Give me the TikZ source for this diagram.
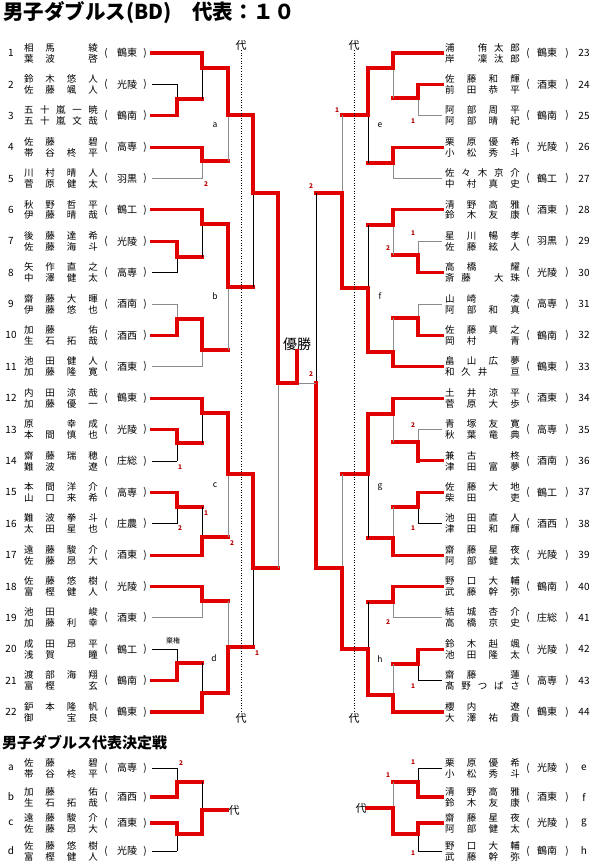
\documentclass[tikz,border=0pt]{standalone}
\usepackage{fontspec}
\setmainfont{Noto Sans CJK JP}
\usepackage{tikz}
\usetikzlibrary{positioning}
\definecolor{winred}{HTML}{E00000}
\definecolor{scorered}{HTML}{B80000}
\definecolor{linegray}{HTML}{8C8C8C}
% one match: [loser style]{x}{winner y}{out y}{loser y}{next x}
\newcommand{\Match}[6][lose]{%
  \draw[#1] (#2,#4) -- (#2,#5);
  \draw[win] (#2,#3) -- (#2,#4) -- (#6,#4);}

\begin{document}
\begin{tikzpicture}[x=1pt, y=-1pt,
  win/.style={draw=winred, line width=3.1pt, line cap=rect},
  lose/.style={draw=black, line width=0.7pt},
  loseg/.style={draw=linegray, line width=0.8pt},
  player/.style={inner sep=0pt, font=\fontsize{9.5}{11}\selectfont},
  school/.style={inner sep=0pt, font=\fontsize{10}{12}\selectfont},
  entryno/.style={inner sep=0pt, font=\fontsize{10}{12}\selectfont},
  score/.style={inner sep=0pt, text=scorered, font=\fontsize{6.5}{7}\selectfont\bfseries},
  grp/.style={inner sep=0pt, font=\fontsize{8.5}{9}\selectfont},
  dai/.style={inner sep=0pt, font=\fontsize{11}{12}\selectfont},
  dotline/.style={draw=black, line width=0.6pt, dotted}
]
\path[use as bounding box, fill=white] (0,0) rectangle (597,867);

\node[anchor=west, inner sep=0pt, font=\fontsize{20.5}{21}\selectfont\bfseries] (title) at (3,13) {男子ダブルス(BD)　代表：１０};

% left half
\foreach \n/\p/\q/\s/\x/\st in {
  1/{相 馬 　 綾}/{葉 波 　 啓}/鶴東/202/win,
  2/{鈴 木 悠 人}/{佐 藤 颯 人}/光陵/177/lose,
  3/{五 十 嵐 一 暁}/{五 十 嵐 文 哉}/鶴南/177/win,
  4/{佐 藤 　 碧}/{帯 谷 柊 平}/高専/202/win,
  5/{川 村 晴 人}/{菅 原 健 太}/羽黒/202/loseg,
  6/{秋 野 哲 平}/{伊 藤 晴 哉}/鶴工/202/win,
  7/{後 藤 達 希}/{佐 藤 海 斗}/光陵/177/win,
  8/{矢 作 直 之}/{中 澤 健 太}/高専/177/lose,
  9/{齋 藤 大 暉}/{伊 藤 悠 也}/酒南/177/loseg,
  10/{加 藤 　 佑}/{生 石 拓 哉}/酒西/177/win,
  11/{池 田 健 人}/{加 藤 隆 寛}/酒東/202/loseg,
  12/{内 田 涼 哉}/{加 藤 優 一}/鶴東/202/win,
  13/{原 　 幸 成}/{本 間 慎 也}/光陵/177/win,
  14/{齋 藤 瑞 穂}/{難 波 　 遼}/庄総/177/lose,
  15/{本 間 洋 介}/{山 口 来 希}/高専/177/win,
  16/{難 波 拳 斗}/{太 田 星 也}/庄農/177/lose,
  17/{遠 藤 駿 介}/{佐 藤 昂 大}/酒東/202/win,
  18/{佐 藤 悠 樹}/{富 樫 健 人}/光陵/202/win,
  19/{池 田 　 峻}/{加 藤 利 幸}/酒東/202/loseg,
  20/{成 田 昂 平}/{浅 賀 　 瞳}/鶴工/177/lose,
  21/{渡 部 海 翔}/{富 樫 　 玄}/鶴南/177/win,
  22/{鈩 本 隆 帆}/{御 　 宝 良}/鶴東/202/win}{
  \pgfmathsetmacro{\yy}{53+(\n-1)*31.38}
  \node[entryno] (no\n) at (11,\yy) {\n};
  \node[player] (pa\n) at (61,\yy-5.5) {\makebox[74pt][s]{\p}};
  \node[player] (pb\n) at (61,\yy+5.5) {\makebox[74pt][s]{\q}};
  \node[school] (op\n) at (106,\yy) {(};
  \node[school] (sc\n) at (127,\yy) {\s};
  \node[school] (cp\n) at (145,\yy) {)};
  \coordinate (e\n) at (152,\yy);
  \draw[\st] (e\n) -- (\x,\yy);
}

% right half
\foreach \n/\p/\q/\s/\x/\st in {
  23/{浦 　 侑 太 郎}/{岸 　 凜 汰 郎}/鶴東/393/win,
  24/{佐 藤 和 輝}/{前 田 恭 平}/酒東/418/win,
  25/{阿 部 周 平}/{阿 部 晴 紀}/鶴南/418/loseg,
  26/{栗 原 優 希}/{小 松 秀 斗}/光陵/393/win,
  27/{佐 々 木 京 介}/{中 村 真 史}/鶴工/393/loseg,
  28/{清 野 高 雅}/{鈴 木 友 康}/酒東/393/win,
  29/{星 川 暢 孝}/{佐 藤 絃 人}/羽黒/418/loseg,
  30/{高 橋 　 耀}/{斎 藤 　 大 珠}/光陵/418/win,
  31/{山 崎 　 凌}/{阿 部 和 真}/高専/418/loseg,
  32/{佐 藤 真 之}/{岡 村 　 青}/鶴南/418/win,
  33/{畠 山 広 夢}/{和 久 井 　 亘}/鶴東/393/win,
  34/{土 井 涼 平}/{菅 原 大 歩}/酒東/393/win,
  35/{青 塚 友 寛}/{秋 葉 竜 典}/高専/418/loseg,
  36/{兼 古 　 柊}/{津 田 富 夢}/酒南/418/win,
  37/{佐 藤 大 地}/{柴 田 　 吏}/鶴工/418/win,
  38/{池 田 直 人}/{津 田 和 輝}/酒西/418/lose,
  39/{齋 藤 星 夜}/{阿 部 健 太}/光陵/393/win,
  40/{野 口 大 輔}/{武 藤 幹 弥}/鶴南/393/win,
  41/{結 城 杏 介}/{高 橋 京 史}/庄総/393/loseg,
  42/{鈴 木 赳 颯}/{池 田 隆 太}/光陵/418/win,
  43/{齋 藤 　 蓮}/{髙 野 つ ば さ}/高専/418/lose,
  44/{櫻 内 　 遼}/{大 澤 祐 貴}/鶴東/393/win}{
  \pgfmathsetmacro{\yy}{53+(\n-23)*31.38}
  \node[player] (pa\n) at (482.5,\yy-5.5) {\makebox[75pt][s]{\p}};
  \node[player] (pb\n) at (482.5,\yy+5.5) {\makebox[75pt][s]{\q}};
  \node[school] (op\n) at (528,\yy) {(};
  \node[school] (sc\n) at (547,\yy) {\s};
  \node[school] (cp\n) at (567,\yy) {)};
  \node[entryno] (no\n) at (584,\yy) {\n};
  \coordinate (e\n) at (442,\yy);
  \draw[\st] (e\n) -- (\x,\yy);
}

% left bracket
\Match{177}{115.8}{99}{84.4}{202}
\Match{202}{53}{68}{99}{228}
\Match[loseg]{202}{147.1}{161}{178.5}{228}
\Match[loseg]{228}{68}{115}{161}{253}
\Match{177}{241.3}{257}{272.7}{202}
\Match{202}{209.9}{224}{257}{228}
\Match[loseg]{177}{335.4}{319}{304}{202}
\Match[loseg]{202}{319}{350}{366.8}{228}
\Match[loseg]{228}{224}{287}{350}{253}
\Match{253}{115}{193}{287}{278}
\Match{177}{429.6}{443}{461}{202}
\Match{202}{398.2}{413}{443}{228}
\Match{177}{492.3}{507}{523.7}{202}
\Match{202}{555.1}{537}{507}{228}
\Match[loseg]{228}{413}{474}{537}{253}
\Match{253}{474}{568}{647}{278}
\Match[loseg]{202}{586.5}{601}{617.8}{228}
\Match{177}{680.6}{663}{649.2}{202}
\Match{202}{712}{693}{663}{228}
\Match[loseg]{228}{693}{647}{601}{253}
\Match[loseg]{278}{193}{383}{568}{297}

% right bracket
\Match[loseg]{418}{84.4}{98}{115.8}{393}
\Match[loseg]{393}{53}{68}{98}{368}
\Match[loseg]{393}{147.1}{163}{178.5}{368}
\Match{368}{68}{115}{163}{342}
\Match[loseg]{418}{272.7}{255}{241.3}{393}
\Match[loseg]{393}{209.9}{225}{255}{368}
\Match[loseg]{418}{335.4}{318}{304}{393}
\Match[loseg]{393}{366.8}{352}{318}{368}
\Match{368}{352}{288}{225}{342}
\Match[loseg]{342}{288}{193}{115}{316}
\Match[loseg]{418}{461}{442}{429.6}{393}
\Match[loseg]{393}{398.2}{414}{442}{368}
\Match{418}{492.3}{507}{523.7}{393}
\Match[loseg]{393}{555.1}{538}{507}{368}
\Match{368}{414}{474}{538}{342}
\Match[loseg]{393}{586.5}{602}{617.8}{368}
\Match{418}{649.2}{664}{680.6}{393}
\Match[loseg]{393}{712}{695}{664}{368}
\Match{368}{695}{649}{602}{342}
\Match[loseg]{342}{649}{568}{474}{316}
\draw[lose] (316,383) -- (316,193);
\draw[win] (316,568) -- (316,383);

% final
\node[inner sep=0pt, font=\fontsize{14}{15}\selectfont] (champ) at (297,344) {優勝};
\draw[loseg] (297,383) -- (316,383);
\draw[win] (297,383) -- (champ.south);

% representative lines
\node[dai] (dtl) at (241,45) {代};
\node[dai] (dbl) at (241,718) {代};
\node[dai] (dtr) at (354,45) {代};
\node[dai] (dbr) at (354,718) {代};
\draw[dotline] (dtl) -- (dbl);
\draw[dotline] (dtr) -- (dbr);

% group labels
\foreach \g/\gx/\gy in {a/215/125, b/215/296, c/215/485, d/214/658,
                        e/380/125, f/380/296, g/380/487, h/380/659}
  \node[grp] (grp\g) at (\gx,\gy) {\g};

\node[inner sep=0pt, font=\fontsize{7}{8}\selectfont] (kiken) at (173,641) {棄権};

% game scores
\foreach \sx/\sy/\t [count=\k] in {206/184/2, 180/467/1, 180/528/2, 206/513/1,
    232/543/2, 257/653/1, 413/121/1, 337/110/1, 311/186/2, 413/233/1,
    388/248/2, 311/374/2, 413/425/2, 413/528/1, 388/622/2, 413/686/1,
    181/763/2, 413/762/1, 388/775/1, 413/853/1}
  \node[score] (pts\k) at (\sx,\sy) {\t};

% play-off
\node[anchor=west, inner sep=0pt, font=\fontsize{15}{16}\selectfont\bfseries] (playoff) at (2,743) {男子ダブルス代表決定戦};

\foreach \n/\yy/\p/\q/\s/\st in {
  a/768/{佐 藤 　 碧}/{帯 谷 柊 平}/高専/lose,
  b/797/{加 藤 　 佑}/{生 石 拓 哉}/酒西/win,
  c/823/{遠 藤 駿 介}/{佐 藤 昂 大}/酒東/win,
  d/851/{佐 藤 悠 樹}/{富 樫 健 人}/光陵/lose}{
  \node[entryno] (no\n) at (11,\yy) {\n};
  \node[player] (pa\n) at (61,\yy-5.5) {\makebox[74pt][s]{\p}};
  \node[player] (pb\n) at (61,\yy+5.5) {\makebox[74pt][s]{\q}};
  \node[school] (op\n) at (106,\yy) {(};
  \node[school] (sc\n) at (127,\yy) {\s};
  \node[school] (cp\n) at (145,\yy) {)};
  \coordinate (e\n) at (152,\yy);
  \draw[\st] (e\n) -- (177,\yy);
}
\foreach \n/\yy/\p/\q/\s/\st in {
  e/768/{栗 原 優 希}/{小 松 秀 斗}/光陵/lose,
  f/797/{清 野 高 雅}/{鈴 木 友 康}/酒東/win,
  g/823/{齋 藤 星 夜}/{阿 部 健 太}/光陵/win,
  h/851/{野 口 大 輔}/{武 藤 幹 弥}/鶴南/lose}{
  \node[player] (pa\n) at (482.5,\yy-5.5) {\makebox[75pt][s]{\p}};
  \node[player] (pb\n) at (482.5,\yy+5.5) {\makebox[75pt][s]{\q}};
  \node[school] (op\n) at (528,\yy) {(};
  \node[school] (sc\n) at (547,\yy) {\s};
  \node[school] (cp\n) at (567,\yy) {)};
  \node[entryno] (no\n) at (584,\yy) {\n};
  \coordinate (e\n) at (442,\yy);
  \draw[\st] (e\n) -- (418,\yy);
}
\Match{177}{797}{782}{768}{202}
\Match{177}{823}{834}{851}{202}
\Match{202}{834}{810}{782}{227}
\node[dai] (dpl) at (234,810) {代};
\Match{418}{797}{782}{768}{393}
\Match{418}{823}{834}{851}{393}
\Match[loseg]{393}{834}{808}{782}{367}
\node[dai] (dpr) at (361,808) {代};
\end{tikzpicture}
\end{document}
